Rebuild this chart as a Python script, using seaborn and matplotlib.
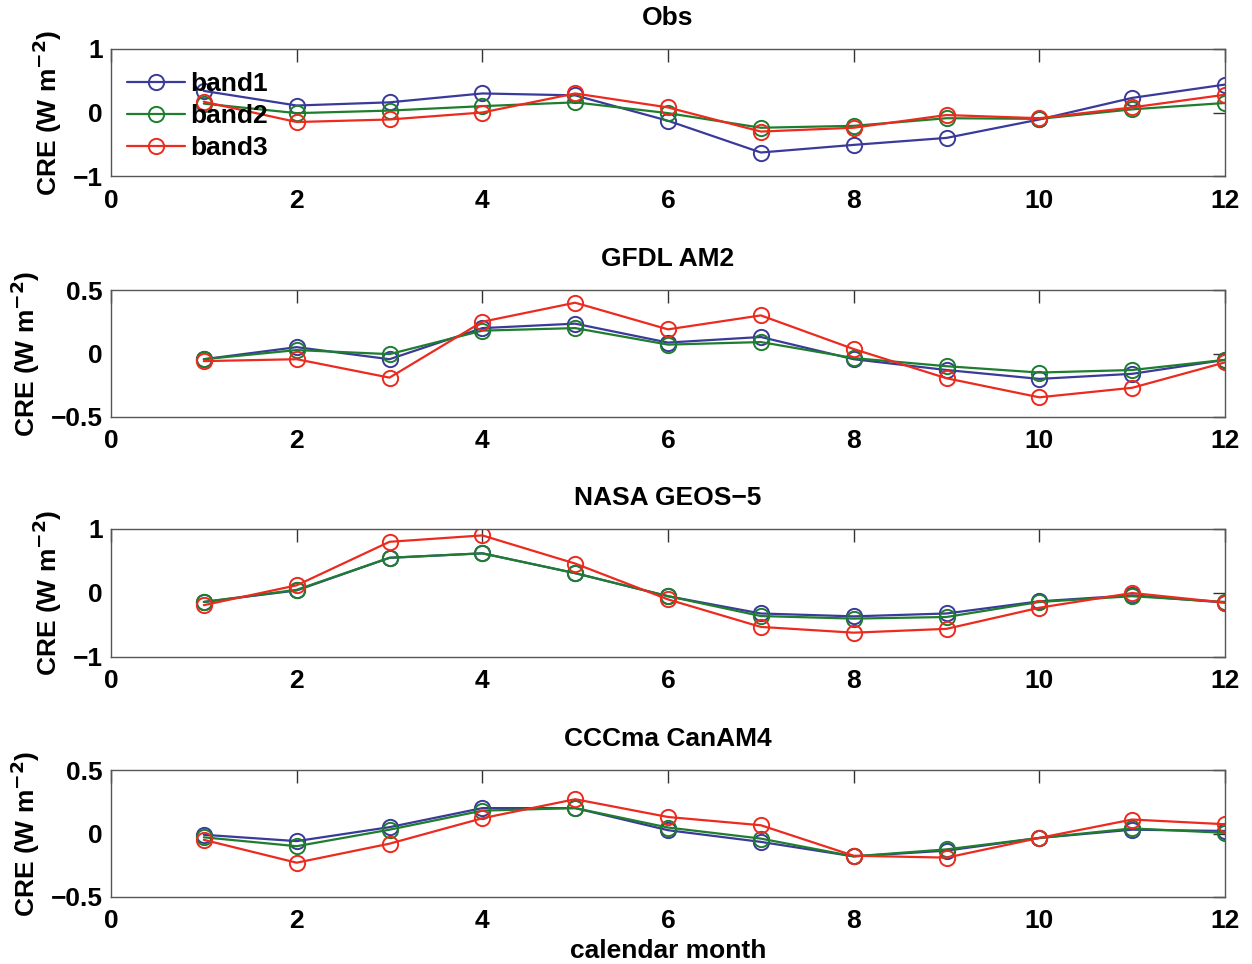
import numpy as np
import pandas as pd
import matplotlib
matplotlib.use("Agg")
import matplotlib.pyplot as plt
import seaborn as sns

months = list(range(1, 13))
bands = ["band1", "band2", "band3"]
titles = ["Obs", "GFDL AM2", "NASA GEOS\u22125", "CCCma CanAM4"]

obs_band1 = [0.34, 0.11, 0.16, 0.30, 0.27, -0.13, -0.63, -0.51, -0.40, -0.11, 0.23, 0.44]
obs_band2 = [0.14, -0.01, 0.03, 0.10, 0.16, -0.01, -0.24, -0.21, -0.09, -0.10, 0.05, 0.15]
obs_band3 = [0.17, -0.15, -0.11, 0.00, 0.30, 0.08, -0.30, -0.24, -0.04, -0.09, 0.08, 0.28]

gfdl_band1 = [-0.045, 0.05, -0.045, 0.20, 0.235, 0.086, 0.13, -0.045, -0.13, -0.20, -0.16, -0.05]
gfdl_band2 = [-0.045, 0.027, -0.005, 0.18, 0.20, 0.07, 0.09, -0.036, -0.10, -0.15, -0.13, -0.05]
gfdl_band3 = [-0.06, -0.045, -0.19, 0.25, 0.40, 0.19, 0.30, 0.035, -0.195, -0.345, -0.27, -0.07]

nasa_band1 = [-0.14, 0.04, 0.55, 0.62, 0.31, -0.05, -0.32, -0.365, -0.32, -0.13, -0.036, -0.15]
nasa_band2 = [-0.14, 0.05, 0.55, 0.62, 0.31, -0.05, -0.36, -0.40, -0.375, -0.14, -0.05, -0.14]
nasa_band3 = [-0.19, 0.12, 0.80, 0.90, 0.46, -0.10, -0.53, -0.62, -0.56, -0.23, 0.0, -0.15]

ccc_band1 = [-0.01, -0.06, 0.05, 0.20, 0.20, 0.026, -0.066, -0.18, -0.135, -0.035, 0.03, 0.02]
ccc_band2 = [-0.03, -0.10, 0.03, 0.18, 0.20, 0.047, -0.04, -0.18, -0.125, -0.035, 0.04, 0.005]
ccc_band3 = [-0.05, -0.23, -0.08, 0.12, 0.27, 0.13, 0.065, -0.175, -0.19, -0.035, 0.11, 0.073]

panels = [
    (obs_band1, obs_band2, obs_band3),
    (gfdl_band1, gfdl_band2, gfdl_band3),
    (nasa_band1, nasa_band2, nasa_band3),
    (ccc_band1, ccc_band2, ccc_band3),
]
ylims = [(-1, 1), (-0.5, 0.5), (-1, 1), (-0.5, 0.5)]
yticks = [[-1, 0, 1], [-0.5, 0, 0.5], [-1, 0, 1], [-0.5, 0, 0.5]]
xticks = [0, 2, 4, 6, 8, 10, 12]

colors = {"band1": "#3a3a9a", "band2": "#1e7d2e", "band3": "#ec2a1e"}

sns.set_theme(style="white")
plt.rcParams["font.family"] = ["Liberation Sans", "DejaVu Sans"]
plt.rcParams["font.weight"] = "bold"
plt.rcParams["axes.labelweight"] = "bold"
plt.rcParams["axes.titleweight"] = "bold"
plt.rcParams["axes.unicode_minus"] = True
plt.rcParams["text.color"] = "black"
plt.rcParams["axes.labelcolor"] = "black"
plt.rcParams["xtick.color"] = "black"
plt.rcParams["ytick.color"] = "black"
plt.rcParams["mathtext.default"] = "bf"

FS = 19

fig = plt.figure(figsize=(12.52, 9.64), dpi=100)
left = 111 / 1252
width = (1225 - 111) / 1252
tops_px = [49, 290, 529, 770]
bots_px = [176, 417, 657, 897]

def fmt(v):
    s = ("%g" % v)
    return s.replace("-", "\u2212")

for i, (vals, title) in enumerate(zip(panels, titles)):
    b = 1 - bots_px[i] / 964
    h = (bots_px[i] - tops_px[i]) / 964
    ax = fig.add_axes([left, b, width, h])
    df = pd.DataFrame({
        "month": months * 3,
        "CRE": list(vals[0]) + list(vals[1]) + list(vals[2]),
        "band": sum([[bn] * 12 for bn in bands], []),
    })
    for bn in bands:
        sub = df[df["band"] == bn]
        sns.lineplot(data=sub, x="month", y="CRE", ax=ax, color=colors[bn],
                     marker="o", markersize=11, markerfacecolor="none",
                     markeredgecolor=colors[bn], markeredgewidth=1.4,
                     linewidth=1.6, label=bn if i == 0 else None,
                     legend=(i == 0))
    ax.set_xlim(0, 12)
    ax.set_ylim(*ylims[i])
    ax.set_xticks(xticks)
    ax.set_xticklabels([str(x) for x in xticks], fontsize=FS, fontweight="bold")
    ax.set_yticks(yticks[i])
    ax.set_yticklabels([fmt(v) for v in yticks[i]], fontsize=FS, fontweight="bold")
    ax.tick_params(direction="in", length=9, width=1, top=True, right=True,
                   color="#333333")
    ax.tick_params(axis="x", pad=9)
    ax.tick_params(axis="y", pad=6)
    for sp in ax.spines.values():
        sp.set_color("#555555")
        sp.set_linewidth(1.0)
        sp.set_visible(True)
    ax.set_title(title, fontsize=FS, fontweight="bold", pad=17, color="black")
    ax.set_ylabel("CRE (W m$^{-2}$)", fontsize=FS, fontweight="bold", labelpad=6)
    if i == 3:
        ax.set_xlabel("calendar month", fontsize=FS, fontweight="bold", labelpad=4)
    else:
        ax.set_xlabel("")
    if i == 0:
        leg = ax.legend(loc="upper left", frameon=False, fontsize=FS,
                        handlelength=2.2, handletextpad=0.2, labelspacing=0.3,
                        borderaxespad=0.2, bbox_to_anchor=(0.0, 0.94))
        for t in leg.get_texts():
            t.set_fontweight("bold")
            t.set_color("black")

fig.savefig("out.png", dpi=100)
